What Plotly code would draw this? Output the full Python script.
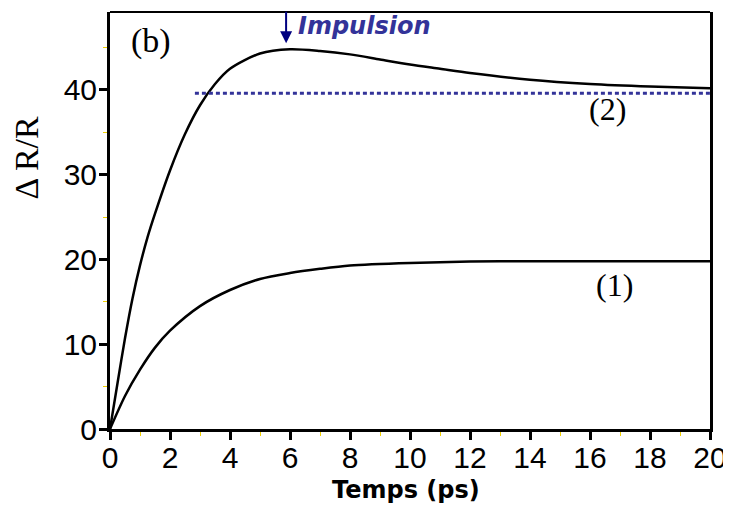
import plotly.graph_objects as go

# Data
t1 = [0, 0.5, 1, 1.5, 2, 3, 4, 5, 6, 7, 8, 10, 12, 14, 16, 18, 20]
r1 = [0, 3.9, 7.0, 9.6, 11.6, 14.5, 16.4, 17.7, 18.4, 18.9, 19.3, 19.6, 19.75, 19.8, 19.8, 19.8, 19.8]

t2 = [0, 0.25, 0.5, 0.75, 1, 1.25, 1.5, 2, 2.5, 3, 3.5, 4, 5, 6, 7, 8, 9, 10, 11, 12, 14, 16, 18, 20]
r2 = [0, 5.4, 10.7, 15.4, 19.3, 22.6, 25.4, 30.5, 34.8, 38.2, 40.7, 42.5, 44.3, 44.8, 44.6, 44.2, 43.6, 43.0, 42.5, 42.0, 41.2, 40.7, 40.4, 40.2]

level_t = [2.83, 20]
level_r = [39.6, 39.6]

x_ticks = [0, 2, 4, 6, 8, 10, 12, 14, 16, 18, 20]
y_ticks = [0, 10, 20, 30, 40]

fig = go.Figure()
fig.add_trace(go.Scatter(x=t1, y=r1, mode="lines", line=dict(color="black", width=2.5, shape="spline", smoothing=0.8), showlegend=False))
fig.add_trace(go.Scatter(x=t2, y=r2, mode="lines", line=dict(color="black", width=2.5, shape="spline", smoothing=0.8), showlegend=False))
fig.add_trace(go.Scatter(x=level_t, y=level_r, mode="lines", line=dict(color="#333399", width=3, dash="4px,3px"), showlegend=False))

tickfont = dict(family="Liberation Sans, Arial", size=30, color="black")

# page body has an 8px margin: figure is offset by (8, 8)
fig.update_layout(
    width=723, height=508,
    margin=dict(l=102, r=18, t=4, b=87),
    paper_bgcolor="white", plot_bgcolor="white",
    xaxis=dict(range=[0, 20], tickvals=x_ticks, showgrid=False, zeroline=False,
               showline=True, linecolor="black", linewidth=3, mirror=False,
               ticks="outside", ticklen=8, tickwidth=3, tickcolor="black", tickfont=tickfont,
               ticklabelstandoff=-8,
               minor=dict(dtick=1, ticks="outside", ticklen=4, tickwidth=1, tickcolor="#f0d000")),
    yaxis=dict(range=[0, 49.2], tickvals=y_ticks, showgrid=False, zeroline=False,
               showline=True, linecolor="black", linewidth=3, mirror=True,
               ticks="outside", ticklen=8, tickwidth=3, tickcolor="black", tickfont=tickfont,
               ticklabelstandoff=-4,
               minor=dict(dtick=5, ticks="outside", ticklen=4, tickwidth=1, tickcolor="#f0d000")),
)

# top border
fig.add_shape(type="line", xref="paper", yref="paper", x0=0, x1=1, y0=1, y1=1, line=dict(color="black", width=2))

serif = "Liberation Serif, Times New Roman, serif"
fig.add_annotation(x=1.36, y=45.75, text="(b)", showarrow=False, font=dict(family=serif, size=34, color="black"))
fig.add_annotation(x=16.58, y=37.7, text="(2)", showarrow=False, font=dict(family=serif, size=32, color="black"))
fig.add_annotation(x=16.8, y=17.0, text="(1)", showarrow=False, font=dict(family=serif, size=32, color="black"))
fig.add_annotation(xref="paper", yref="paper", x=-0.139, y=0.65, xanchor="center", yanchor="middle",
                   text="Δ R/R", textangle=-90, showarrow=False,
                   font=dict(family=serif, size=34, color="black"))
fig.add_annotation(xref="paper", yref="paper", x=0.493, y=-0.146, xanchor="center", yanchor="middle",
                   text="<b>Temps (ps)</b>", showarrow=False,
                   font=dict(family="DejaVu Sans, Verdana", size=24, color="black"))
fig.add_annotation(x=6.2, y=47.5, text="<b><i>Impulsion</i></b>", showarrow=False, xanchor="left",
                   font=dict(family="DejaVu Sans, Verdana", size=24, color="#333399"))
# arrow
fig.add_annotation(x=5.87, y=45.5, ax=5.87, ay=49.4, axref="x", ayref="y", text="", showarrow=True,
                   arrowhead=2, arrowsize=1.2, arrowwidth=2, arrowcolor="#000080")

fig.write_html("out.html")
